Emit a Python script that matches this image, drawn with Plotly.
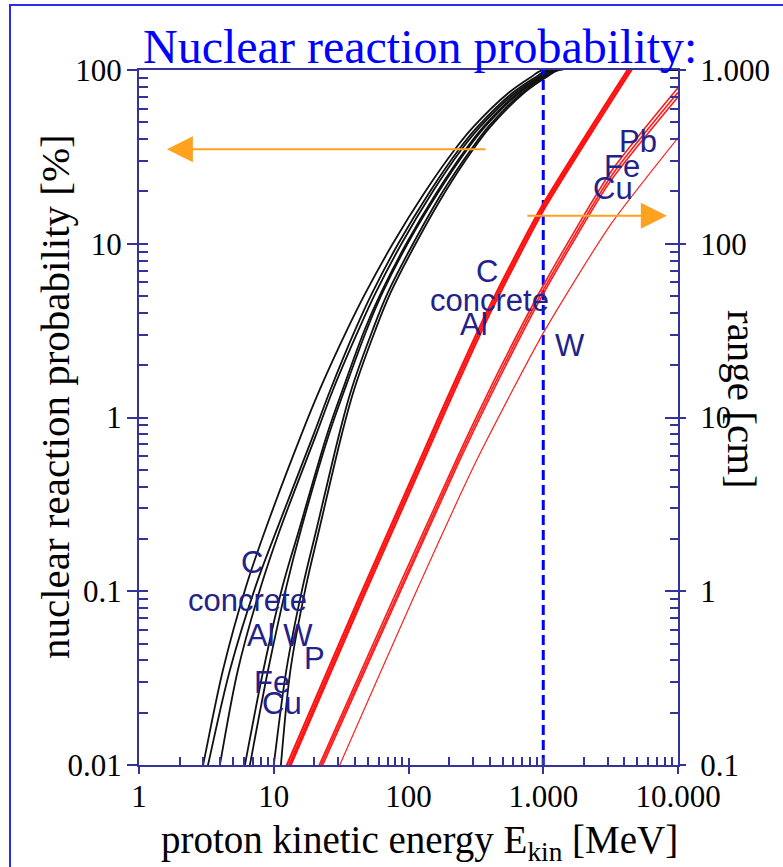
import math
import plotly.graph_objects as go

# ---------------- data ----------------
# nuclear reaction probability (left axis, %) vs proton energy (MeV)
prob_pct = [0.0079, 0.01, 0.0352, 0.106, 0.225, 0.794, 1.44, 3.19, 5.21, 10, 19.6, 35.1, 47.2, 73.5, 91.2, 100, 100]
energy_prob_C = [2.80, 2.99, 4.20, 6.22, 8.65, 16.0, 21.9, 35.0, 48.0, 76.4, 131, 222, 304, 548, 813, 1000, 10000]
energy_prob_concrete = [3.03, 3.25, 4.73, 7.31, 10.5, 19.7, 26.3, 40.2, 53.8, 83.8, 142, 238, 326, 587, 881, 1096, 10000]
energy_prob_Al = [3.76, 3.98, 5.42, 8.02, 11.1, 20.6, 27.5, 42.6, 57.0, 88.7, 149, 249, 341, 615, 923, 1148, 10000]
energy_prob_Fe = [5.77, 6.11, 8.38, 11.6, 15.4, 24.8, 32.4, 47.2, 62.5, 96.2, 161, 267, 361, 644, 966, 1202, 10000]
energy_prob_Cu = [6.28, 6.65, 9.08, 12.4, 15.9, 25.6, 33.5, 48.9, 64.0, 98.4, 165, 274, 370, 659, 989, 1230, 10000]
energy_prob_W = [9.60, 10.0, 12.4, 16.4, 20.7, 30.5, 37.6, 54.2, 70.1, 108, 177, 293, 392, 690, 1023, 1288, 10000]
energy_prob_Pb = [11.0, 11.3, 13.3, 17.3, 21.7, 31.9, 39.4, 56.8, 73.5, 113, 185, 303, 406, 714, 1059, 1318, 10000]

# proton range (right axis, cm) vs proton energy (MeV)
range_cm_light = [0.085, 0.1, 0.89, 5.7, 10.8, 41.2, 162, 1000, 1340]
energy_range_C = [11.4, 12.5, 42.2, 121.6, 174.6, 385, 966, 4220, 5430]
energy_range_concrete = [11.9, 13.0, 43.7, 125.9, 180.7, 398, 1000, 4365, 5620]
energy_range_Al = [12.25, 13.4, 45.2, 130.3, 187.1, 412, 1035, 4520, 5820]

energy_range_mid = [20, 22.4, 79.4, 233, 501, 1000, 3162, 10000]
range_cm_Pb = [0.086, 0.105, 0.95, 6.0, 20.6, 57.5, 258, 790]
range_cm_Fe = [0.082, 0.1, 0.891, 5.69, 19.4, 54.2, 242, 741]
range_cm_Cu = [0.078, 0.095, 0.85, 5.4, 18.4, 51.5, 230, 700]

energy_range_W = [28, 30.9, 107, 321, 1000, 3162, 10000]
range_cm_W = [0.084, 0.1, 0.891, 5.69, 30.6, 129, 407]

marker_energy = 1000  # dashed vertical line (MeV)

# axis ticks
x_tickvals = [1, 10, 100, 1000, 10000]
x_ticktext = ["1", "10", "100", "1.000", "10.000"]
yl_tickvals = [0.01, 0.1, 1, 10, 100]
yl_ticktext = ["0.01", "0.1", "1", "10", "100"]
yr_tickvals = [0.1, 1, 10, 100, 1000]
yr_ticktext = ["0.1", "1", "10", "100", "1.000"]

# material labels: (text, energy MeV, probability %)
labels_low = [("C", 6.9, 0.146), ("concrete", 6.4, 0.088), ("Al W", 11.1, 0.056),
              ("P", 20.2, 0.041), ("Fe", 9.7, 0.030), ("Cu", 11.5, 0.0227)]
labels_high = [("C", 382, 6.88), ("concrete", 402, 4.74), ("Al", 305, 3.45), ("W", 1575, 2.61),
               ("Pb", 5035, 39), ("Fe", 3830, 27.7), ("Cu", 3280, 20.7)]

# arrows: (tip energy, tail energy, level %)
arrow_left = (1.61, 383, 35)
arrow_right = (8260, 743, 14.5)

# ---------------- figure ----------------
AX = "#333399"
LBL = "#22228A"
ORANGE = "#FFA21F"

fig = go.Figure()

for e in [energy_prob_C, energy_prob_concrete, energy_prob_Al, energy_prob_Fe,
          energy_prob_Cu, energy_prob_W, energy_prob_Pb]:
    fig.add_trace(go.Scatter(x=e, y=prob_pct, mode="lines", xaxis="x", yaxis="y",
                             line=dict(color="#111111", width=1.8, shape="spline", smoothing=1.0),
                             hoverinfo="skip", showlegend=False))

for e in [energy_range_C, energy_range_concrete, energy_range_Al]:
    fig.add_trace(go.Scatter(x=e, y=range_cm_light, mode="lines", xaxis="x", yaxis="y2",
                             line=dict(color="#FF1010", width=2, shape="spline", smoothing=0.6),
                             hoverinfo="skip", showlegend=False))
for r in [range_cm_Pb, range_cm_Fe, range_cm_Cu]:
    fig.add_trace(go.Scatter(x=energy_range_mid, y=r, mode="lines", xaxis="x", yaxis="y2",
                             line=dict(color="#FF1A1A", width=1.6, shape="spline", smoothing=0.6),
                             hoverinfo="skip", showlegend=False))
fig.add_trace(go.Scatter(x=energy_range_W, y=range_cm_W, mode="lines", xaxis="x", yaxis="y2",
                         line=dict(color="#FF2020", width=1.2, shape="spline", smoothing=0.6),
                         hoverinfo="skip", showlegend=False))

fig.add_trace(go.Scatter(x=[marker_energy, marker_energy], y=[yl_tickvals[0], yl_tickvals[-1]],
                         mode="lines", xaxis="x", yaxis="y",
                         line=dict(color="#0000FF", width=3, dash="10px,5px"),
                         hoverinfo="skip", showlegend=False))

# empty traces to register helper axes (outer halves of major ticks)
fig.add_trace(go.Scatter(x=[], y=[], xaxis="x2", yaxis="y", showlegend=False))
fig.add_trace(go.Scatter(x=[], y=[], xaxis="x", yaxis="y3", showlegend=False))
fig.add_trace(go.Scatter(x=[], y=[], xaxis="x", yaxis="y4", showlegend=False))


def minor_vals(lo, hi):
    return [d * 10 ** k for k in range(lo, hi) for d in range(2, 10)]


tick_font = dict(family="Liberation Serif", size=31, color="black")

fig.update_layout(
    width=783, height=867,
    margin=dict(l=139, r=105, t=70, b=102),
    paper_bgcolor="white", plot_bgcolor="white",
    showlegend=False,
    xaxis=dict(type="log", range=[0, 4], tickmode="array", tickvals=x_tickvals, ticktext=x_ticktext,
               ticks="inside", ticklen=7, tickwidth=1.5, tickcolor=AX,
               showline=True, linecolor=AX, linewidth=2, mirror=True,
               showgrid=False, zeroline=False, tickfont=tick_font, ticklabelstandoff=3,
               minor=dict(tickmode="array", tickvals=minor_vals(0, 4), ticks="inside", ticklen=8,
                          tickwidth=1.5, tickcolor=AX, showgrid=False)),
    xaxis2=dict(type="log", range=[0, 4], overlaying="x", anchor="y", side="bottom",
                tickmode="array", tickvals=x_tickvals, ticks="outside", ticklen=8, tickwidth=1.5,
                tickcolor=AX, showticklabels=False, showline=False, showgrid=False, zeroline=False),
    yaxis=dict(type="log", range=[-2, 2], tickmode="array", tickvals=yl_tickvals, ticktext=yl_ticktext,
               ticks="inside", ticklen=9, tickwidth=1.5, tickcolor=AX,
               showline=True, linecolor=AX, linewidth=2, showgrid=False, zeroline=False,
               tickfont=tick_font, ticklabelstandoff=9,
               minor=dict(tickmode="array", tickvals=minor_vals(-2, 2), ticks="inside", ticklen=9,
                          tickwidth=1.5, tickcolor=AX, showgrid=False)),
    yaxis2=dict(type="log", range=[-1, 3], overlaying="y", side="right", anchor="x",
                tickmode="array", tickvals=yr_tickvals, ticktext=yr_ticktext,
                ticks="inside", ticklen=13, tickwidth=1.5, tickcolor=AX,
                showline=True, linecolor=AX, linewidth=2, showgrid=False, zeroline=False,
                tickfont=tick_font, ticklabelstandoff=14,
                minor=dict(tickmode="array", tickvals=minor_vals(-1, 3), ticks="inside", ticklen=8,
                           tickwidth=1.5, tickcolor=AX, showgrid=False)),
    yaxis3=dict(type="log", range=[-2, 2], overlaying="y", side="left", anchor="x",
                tickmode="array", tickvals=yl_tickvals, ticks="outside", ticklen=11, tickwidth=1.5,
                tickcolor=AX, showticklabels=False, showline=False, showgrid=False, zeroline=False),
    yaxis4=dict(type="log", range=[-1, 3], overlaying="y", side="right", anchor="x",
                tickmode="array", tickvals=yr_tickvals, ticks="outside", ticklen=7, tickwidth=1.5,
                tickcolor=AX, showticklabels=False, showline=False, showgrid=False, zeroline=False),
)

ann = []
# titles
ann.append(dict(text="Nuclear reaction probability:", xref="paper", yref="paper", x=0.5213, y=1.034,
                xanchor="center", yanchor="middle", showarrow=False,
                font=dict(family="Liberation Serif", size=48, color="#0000FF")))
ann.append(dict(text="proton kinetic energy E<sub>kin</sub> [MeV]", xref="paper", yref="paper",
                x=0.5195, y=-0.1122, xanchor="center", yanchor="middle", showarrow=False,
                font=dict(family="Liberation Serif", size=39, color="black")))
ann.append(dict(text="nuclear reaction probability [%]", xref="paper", yref="paper",
                x=-0.1558, y=0.5295, xanchor="center", yanchor="middle", textangle=-90, showarrow=False,
                font=dict(family="Liberation Serif", size=41, color="black")))
ann.append(dict(text="range [cm]", xref="paper", yref="paper",
                x=1.1187, y=0.5252, xanchor="center", yanchor="middle", textangle=90, showarrow=False,
                font=dict(family="Liberation Serif", size=41, color="black")))

for t, e, p in labels_low + labels_high:
    ann.append(dict(text=t, xref="x", yref="y", x=math.log10(e), y=math.log10(p),
                    xanchor="center", yanchor="middle", showarrow=False,
                    font=dict(family="Liberation Sans", size=31, color=LBL)))

for tip, tail, lvl in [arrow_left, arrow_right]:
    ann.append(dict(text="", xref="x", yref="y", x=math.log10(tip), y=math.log10(lvl),
                    axref="x", ayref="y", ax=math.log10(tail), ay=math.log10(lvl),
                    showarrow=True, arrowhead=2, arrowsize=2.6, arrowwidth=2, arrowcolor=ORANGE))

fig.update_layout(annotations=ann)

# outer blue frame
fig.add_shape(type="rect", xref="paper", yref="paper",
              x0=(10 - 139) / 539, x1=(800 - 139) / 539, y0=(765 - 880) / 695, y1=(765 - 5) / 695,
              line=dict(color="#2A2AF5", width=2), fillcolor="rgba(0,0,0,0)", layer="below")

fig.write_html("out.html", config={"displayModeBar": False},
               post_script="document.body.style.margin='0px';")
